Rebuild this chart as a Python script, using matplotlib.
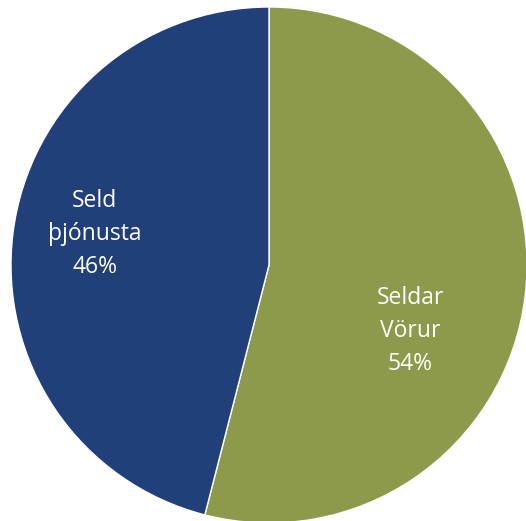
import matplotlib
matplotlib.use("Agg")
import matplotlib.pyplot as plt

# =========================
# data
# =========================
labels = ["Seldar\nVörur", "Seld\nþjónusta"]
shares = [54, 46]
colors = ["#8E9A4B", "#213F79"]
label_pos = [(0.547, -0.255), (-0.675, 0.12)]

plt.rcParams["font.family"] = ["Open Sans", "DejaVu Sans"]

# =========================
# plot
# =========================
W, H = 526, 521
fig = plt.figure(figsize=(W / 100, H / 100), dpi=100)
cx, cy, r = 269, 265, 258
ax = fig.add_axes([(cx - r) / W, (H - cy - r) / H, 2 * r / W, 2 * r / H])

ax.pie(shares, colors=colors, startangle=90, counterclock=False, radius=1,
       wedgeprops=dict(edgecolor="white", linewidth=1))

for lab, val, (x, y) in zip(labels, shares, label_pos):
    ax.text(x, y, f"{lab}\n{val}%", ha="center", va="center", color="white",
            fontsize=16.5, linespacing=1.5)

ax.set_xlim(-1, 1)
ax.set_ylim(-1, 1)
ax.set_aspect("equal")
ax.axis("off")

fig.savefig("out.png", dpi=100)
